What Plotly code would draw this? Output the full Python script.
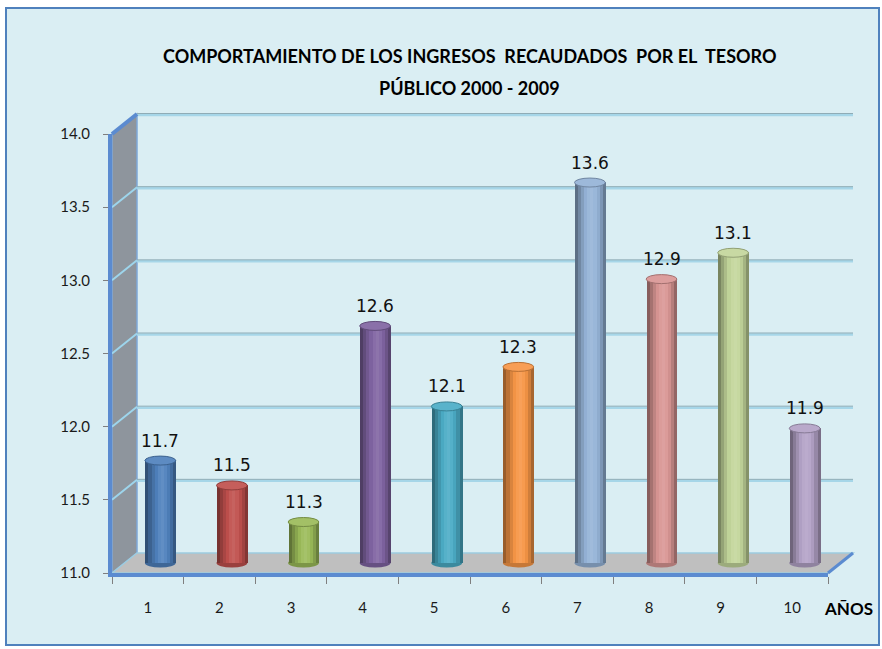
import plotly.graph_objects as go

# ---------------- data ----------------
years = ['1', '2', '3', '4', '5', '6', '7', '8', '9', '10']
values = [11.7, 11.53, 11.28, 12.62, 12.07, 12.34, 13.6, 12.94, 13.12, 11.92]
bar_colors = ['#4F81BD', '#C0504D', '#9BBB59', '#8064A2', '#4BACC6',
              '#F79646', '#95B3D7', '#D99694', '#C3D69B', '#B3A2C7']
y_ticks = [11.0, 11.5, 12.0, 12.5, 13.0, 13.5, 14.0]
title_line1 = 'COMPORTAMIENTO DE LOS INGRESOS  RECAUDADOS  POR EL  TESORO'
title_line2 = 'PÚBLICO 2000 - 2009'
x_title = 'AÑOS'

# ---------------- geometry (pixels) ----------------
W, H = 882, 649
FX0, FX1 = 112, 828          # front x extent of the category axis
FY11, FY14 = 573, 134        # front pixel rows of 11.0 and 14.0
DX, DY = 25, -20             # depth offset front -> back wall
PPU = (FY11 - FY14) / 3.0    # pixels per unit
YMIN, YMAX = 11.0, 14.0
FONT = 'Lato, "Open Sans", sans-serif'
LABEL_FONT = '"DejaVu Sans", sans-serif'
BLUE = '#5B8BD0'


def fx(px):
    return px / W


def fy(py):
    return 1 - py / H


def front_y(v):
    return FY11 - (v - YMIN) * PPU


def shade(hexc, f):
    hexc = hexc.lstrip('#')
    rgb = [int(hexc[i:i + 2], 16) for i in (0, 2, 4)]
    if f <= 1:
        rgb = [c * f for c in rgb]
    else:
        rgb = [c + (255 - c) * (f - 1) for c in rgb]
    return 'rgb(%d,%d,%d)' % tuple(max(0, min(255, round(c))) for c in rgb)


def P(px, py):
    return '%f,%f' % (fx(px), fy(py))


shapes = []
# chart area background & border
shapes.append(dict(type='rect', xref='paper', yref='paper', layer='below',
                   x0=fx(6), x1=fx(879), y0=fy(645), y1=fy(8),
                   fillcolor='#DAEEF3', line=dict(color='#4F81BD', width=2)))

# side wall
wall = 'M %s L %s L %s L %s Z' % (P(FX0, FY11), P(FX0, FY14),
                                  P(FX0 + DX, FY14 + DY), P(FX0 + DX, FY11 + DY))
shapes.append(dict(type='path', xref='paper', yref='paper', layer='below', path=wall,
                   fillcolor='#8E959D', line=dict(color='#7FA8D8', width=1.5)))
# floor
floor = 'M %s L %s L %s L %s Z' % (P(FX0, FY11), P(FX1, FY11),
                                   P(FX1 + DX, FY11 + DY), P(FX0 + DX, FY11 + DY))
shapes.append(dict(type='path', xref='paper', yref='paper', layer='below', path=floor,
                   fillcolor='#BFBFBF', line=dict(color='#9DCCE0', width=1.5)))
# floor right edge (blue)
shapes.append(dict(type='line', xref='paper', yref='paper', layer='below',
                   x0=fx(FX1), y0=fy(FY11), x1=fx(FX1 + DX), y1=fy(FY11 + DY),
                   line=dict(color=BLUE, width=3)))

# back wall gridlines and side wall diagonals
for v in y_ticks[1:]:
    yb = front_y(v) + DY
    shapes.append(dict(type='line', xref='paper', yref='paper', layer='below',
                       x0=fx(FX0 + DX), x1=fx(FX1 + DX), y0=fy(yb + 1), y1=fy(yb + 1),
                       line=dict(color='#A6D6E8', width=2.5)))
    shapes.append(dict(type='line', xref='paper', yref='paper', layer='below',
                       x0=fx(FX0 + DX), x1=fx(FX1 + DX), y0=fy(yb - 0.5), y1=fy(yb - 0.5),
                       line=dict(color='#8FACB6', width=1)))
    col = BLUE if v == YMAX else '#9DD5EC'
    wid = 4 if v == YMAX else 2
    shapes.append(dict(type='line', xref='paper', yref='paper', layer='below',
                       x0=fx(FX0), y0=fy(front_y(v)), x1=fx(FX0 + DX), y1=fy(yb),
                       line=dict(color=col, width=wid)))

# ---------------- traces ----------------
BW = 0.43
MIDX, MIDY = DX / 2.0, DY / 2.0
Y11M = FY11 + MIDY
R0, R1 = 10.9, 14.1
fig = go.Figure()

# invisible traces so the front (labelled) axes are drawn
fig.add_trace(go.Scatter(x=years, y=values, mode='markers', marker=dict(opacity=0),
                         xaxis='x', yaxis='y', hoverinfo='skip', showlegend=False))
fig.add_trace(go.Scatter(x=years, y=values, mode='markers', marker=dict(opacity=0),
                         xaxis='x', yaxis='y3', hoverinfo='skip', showlegend=False))

# cylinders on the mid-depth plane, shaded by vertical stripes
profile = [0.62, 0.76, 0.88, 0.98, 1.06, 1.1, 1.05, 0.96, 0.84, 0.68]
n = len(profile)
sw = BW / n
for k, f in enumerate(profile):
    fig.add_trace(go.Bar(
        x=years, y=[v - YMIN for v in values], base=YMIN,
        offset=-BW / 2 + k * sw, width=sw * 1.2 if k < n - 1 else sw,
        marker=dict(color=[shade(c, f) for c in bar_colors], line=dict(width=0)),
        xaxis='x2', yaxis='y2', hoverinfo='skip', showlegend=False))

cap_h = 4.5 / PPU
annotations = []
for i, (v, c) in enumerate(zip(values, bar_colors)):
    shapes.append(dict(type='circle', xref='x2', yref='y2', layer='below',
                       x0=i - BW / 2, x1=i + BW / 2, y0=YMIN - cap_h, y1=YMIN + cap_h,
                       fillcolor=shade(c, 0.8), line=dict(width=0)))
    shapes.append(dict(type='circle', xref='x2', yref='y2', layer='above',
                       x0=i - BW / 2, x1=i + BW / 2, y0=v - cap_h, y1=v + cap_h,
                       fillcolor=shade(c, 1.08), line=dict(color=shade(c, 0.75), width=1)))
    annotations.append(dict(text='%.1f' % v, x=i, y=v, xref='x2', yref='y2',
                            xanchor='center', yanchor='bottom', yshift=8, showarrow=False,
                            font=dict(family=LABEL_FONT, size=17, color='#111111')))

annotations += [
    dict(text='<b>%s</b>' % title_line1, xref='paper', yref='paper', x=fx(470), y=fy(56),
         xanchor='center', yanchor='middle', showarrow=False,
         font=dict(family=FONT, size=18, color='#000000')),
    dict(text='<b>%s</b>' % title_line2, xref='paper', yref='paper', x=fx(470), y=fy(88),
         xanchor='center', yanchor='middle', showarrow=False,
         font=dict(family=FONT, size=18, color='#000000')),
    dict(text='<b>%s</b>' % x_title, xref='paper', yref='paper', x=fx(848), y=fy(608),
         xanchor='center', yanchor='middle', showarrow=False,
         font=dict(family=FONT, size=17, color='#000000')),
]

fig.update_layout(
    width=W, height=H, margin=dict(l=0, r=0, t=0, b=0, autoexpand=False),
    paper_bgcolor='white', plot_bgcolor='rgba(0,0,0,0)',
    barmode='overlay', bargap=0, showlegend=False,
    shapes=shapes, annotations=annotations,
    font=dict(family=FONT, size=13, color='#1a1a1a'),
    xaxis=dict(domain=[fx(FX0), fx(FX1)], anchor='y', type='category',
               categoryorder='array', categoryarray=years, range=[-0.5, 9.5],
               tickson='boundaries', ticks='outside', ticklen=7, tickcolor='#7f7f7f',
               showline=True, linecolor=BLUE, linewidth=4, showgrid=False, zeroline=False,
               tickfont=dict(family=FONT, size=15, color='#1a1a1a'), ticklabelstandoff=18,
               fixedrange=True),
    yaxis=dict(domain=[fy(FY11), fy(FY14)], anchor='x', range=[YMIN, YMAX],
               tickvals=y_ticks, ticks='outside', ticklen=5, showticklabels=False,
               tickcolor='#7f7f7f', showline=True, linecolor=BLUE, linewidth=4,
               showgrid=False, zeroline=False, fixedrange=True),
    yaxis3=dict(overlaying='y', anchor='free', position=fx(90), side='left',
                range=[YMIN, YMAX], tickvals=y_ticks, tickformat='.1f', ticks='',
                showline=False, showgrid=False, zeroline=False,
                tickfont=dict(family=FONT, size=15, color='#1a1a1a'), fixedrange=True),
    xaxis2=dict(domain=[fx(FX0 + MIDX), fx(FX1 + MIDX)], anchor='y2', type='category',
                categoryorder='array', categoryarray=years, range=[-0.5, 9.5],
                visible=False, fixedrange=True),
    yaxis2=dict(domain=[fy(Y11M - (R0 - YMIN) * PPU), fy(Y11M - (R1 - YMIN) * PPU)],
                anchor='x2', range=[R0, R1], visible=False, fixedrange=True),
)

fig.write_html('out.html', config={'displayModeBar': False},
               post_script="document.body.style.margin='0';")
